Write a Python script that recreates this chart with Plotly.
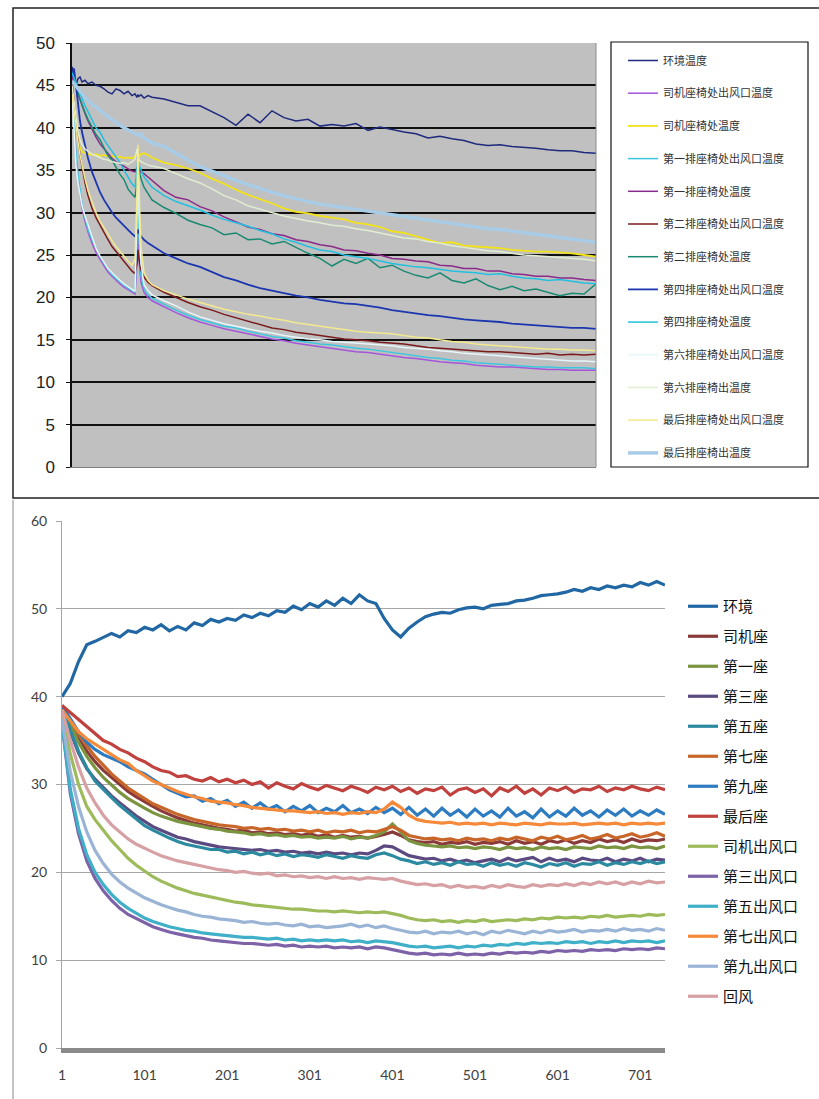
import plotly.graph_objects as go

W, H = 819, 1099

# ---------------- top chart data ----------------
TOP_X = [0, 2, 4, 6, 8, 10, 13, 16, 20, 24, 28, 32, 36, 40, 44, 48, 52, 56, 60, 63, 65, 66, 67, 69, 72, 76, 80,
         92, 104, 116, 128, 140, 152, 164, 176, 188, 200, 212, 224, 236, 248, 260, 272, 284, 296, 308, 320,
         332, 344, 356, 368, 380, 392, 404, 416, 428, 440, 452, 464, 476, 488, 500, 512, 524]

top_env = [47.2, 46.0, 45.0, 45.8, 46.0, 45.4, 45.6, 45.2, 45.4, 45.0,
           44.9, 44.6, 44.2, 44.0, 44.6, 44.4, 44.0, 44.3, 43.8, 44.0,
           43.6, 43.9, 43.7, 43.9, 43.5, 43.8, 43.6, 43.4, 43.0, 42.6,
           42.6, 41.9, 41.2, 40.3, 41.6, 40.6, 42.0, 41.2, 40.8, 41.0,
           40.2, 40.4, 40.2, 40.5, 39.7, 40.1, 39.8, 39.5, 39.3, 38.8,
           39.0, 38.7, 38.5, 38.1, 37.9, 38.0, 37.8, 37.7, 37.6, 37.4,
           37.3, 37.3, 37.1, 37.0]
top_drv_out = [44.5, 40.0, 36.5, 34.0, 32.0, 30.5, 29.0, 27.7, 26.4, 25.3,
               24.5, 23.7, 23.0, 22.5, 22.0, 21.6, 21.2, 20.9, 20.6, 20.4,
               24.0, 28.0, 24.5, 21.8, 20.6, 20.0, 19.6, 18.9, 18.2, 17.6,
               17.1, 16.7, 16.3, 16.0, 15.7, 15.4, 15.1, 14.9, 14.6, 14.4,
               14.2, 14.0, 13.8, 13.6, 13.5, 13.3, 13.1, 12.9, 12.8, 12.6,
               12.4, 12.3, 12.2, 12.0, 11.9, 11.8, 11.8, 11.7, 11.6, 11.5,
               11.5, 11.4, 11.4, 11.4]
top_drv_seat = [44.0, 42.0, 40.0, 38.5, 37.6, 37.2, 37.0, 36.9, 36.8, 36.9,
                36.7, 36.8, 36.6, 36.7, 36.5, 36.6, 36.4, 36.5, 36.4, 36.6,
                37.0, 36.8, 36.6, 36.9, 37.0, 36.8, 36.5, 35.9, 35.6, 35.2,
                34.7, 34.0, 33.4, 32.7, 32.1, 31.6, 31.1, 30.5, 30.1, 29.9,
                29.6, 29.4, 29.2, 28.8, 28.6, 28.3, 27.8, 27.6, 27.2, 26.8,
                26.4, 26.5, 26.1, 26.0, 25.9, 25.8, 25.6, 25.5, 25.4, 25.4,
                25.3, 25.2, 25.0, 24.8]
top_r1_out = [45.0, 40.5, 37.0, 34.5, 32.5, 31.0, 29.4, 28.0, 26.8, 25.7,
              24.8, 24.0, 23.3, 22.7, 22.2, 21.8, 21.4, 21.1, 20.8, 20.6,
              27.0, 33.0, 27.0, 22.5, 21.0, 20.3, 19.9, 19.2, 18.5, 17.9,
              17.4, 17.0, 16.6, 16.4, 16.0, 15.7, 15.4, 15.2, 14.9, 14.7,
              14.5, 14.4, 14.2, 14.0, 13.9, 13.7, 13.5, 13.3, 13.1, 12.9,
              12.8, 12.6, 12.5, 12.3, 12.2, 12.1, 12.0, 11.9, 11.8, 11.8,
              11.7, 11.7, 11.7, 11.6]
top_r1_seat = [46.0, 45.5, 44.8, 44.0, 43.3, 42.6, 41.7, 40.8, 39.8, 38.9,
               38.1, 37.5, 36.9, 36.4, 36.0, 35.7, 35.4, 35.2, 34.9, 34.8,
               35.3, 35.1, 34.9, 34.8, 34.6, 34.2, 33.8, 32.6, 31.8, 31.5,
               30.7, 30.2, 29.5, 28.9, 28.3, 28.0, 27.5, 27.3, 26.8, 26.6,
               26.2, 26.0, 25.6, 25.5, 25.2, 25.0, 24.6, 24.5, 24.3, 24.2,
               23.8, 23.7, 23.4, 23.4, 23.1, 23.1, 22.8, 22.7, 22.5, 22.5,
               22.3, 22.3, 22.1, 22.0]
top_r2_out = [45.5, 43.0, 40.5, 38.5, 36.8, 35.3, 33.5, 32.0, 30.5, 29.4,
              28.5, 27.6, 26.8, 26.0, 25.4, 24.8, 24.2, 23.6, 23.1, 22.8,
              24.0, 25.6, 24.5, 23.2, 22.4, 21.8, 21.4, 20.6, 20.0, 19.4,
              18.9, 18.5, 18.0, 17.6, 17.2, 16.8, 16.4, 16.2, 15.9, 15.7,
              15.5, 15.3, 15.1, 15.0, 14.9, 14.7, 14.6, 14.5, 14.3, 14.1,
              14.0, 13.9, 13.8, 13.7, 13.6, 13.6, 13.5, 13.4, 13.3, 13.4,
              13.2, 13.3, 13.2, 13.3]
top_r2_seat = [46.5, 45.8, 45.0, 44.2, 43.4, 42.7, 41.8, 41.0, 40.0, 39.2,
               38.6, 37.6, 36.7, 36.2, 35.4, 34.5, 33.9, 32.8, 32.2, 31.8,
               33.5, 35.9, 35.0, 34.0, 33.0, 32.2, 31.5, 30.6, 29.9, 29.1,
               28.6, 28.2, 27.4, 27.6, 26.8, 26.9, 26.3, 26.6, 25.9, 25.2,
               24.6, 23.7, 24.5, 24.0, 24.6, 23.5, 23.8, 23.1, 22.6, 22.3,
               22.9, 22.0, 21.7, 22.2, 21.4, 20.9, 21.3, 20.8, 21.0, 20.6,
               20.2, 20.5, 20.4, 21.6]
top_r4_out = [46.0, 47.0, 45.0, 42.5, 40.8, 39.5, 37.8, 36.4, 34.8, 33.5,
              32.4, 31.5, 30.7, 30.0, 29.4, 28.9, 28.4, 28.0, 27.5, 27.2,
              27.6, 28.0, 27.6, 27.2, 26.8, 26.4, 26.1, 25.2, 24.6, 24.0,
              23.6, 23.0, 22.4, 22.0, 21.5, 21.1, 20.8, 20.5, 20.2, 20.0,
              19.7, 19.5, 19.3, 19.2, 19.0, 18.8, 18.5, 18.3, 18.1, 17.9,
              17.8, 17.6, 17.4, 17.3, 17.2, 17.1, 16.9, 16.8, 16.7, 16.6,
              16.5, 16.4, 16.4, 16.3]
top_r4_seat = [46.5, 46.0, 45.3, 44.6, 44.0, 43.4, 42.6, 41.9, 40.9, 40.0,
               39.5, 38.6, 37.9, 37.2, 36.6, 35.9, 35.0, 34.2, 33.4, 33.0,
               34.8, 36.3, 35.6, 35.0, 34.2, 33.6, 33.0, 32.0, 31.3, 30.8,
               30.3, 29.7, 29.2, 28.8, 28.4, 27.9, 27.5, 26.9, 26.5, 26.0,
               25.6, 25.4, 25.0, 24.8, 24.6, 24.3, 24.0, 23.8, 23.6, 23.5,
               23.3, 23.1, 23.0, 22.9, 22.7, 22.8, 22.5, 22.3, 22.2, 22.0,
               22.1, 21.9, 21.7, 21.6]
top_r6_out = [44.0, 39.0, 35.5, 33.5, 32.0, 30.8, 29.6, 28.6, 27.2, 25.8,
              24.9, 24.1, 23.4, 22.9, 22.4, 22.0, 21.6, 21.3, 20.9, 20.7,
              30.0, 37.0, 30.0, 24.0, 21.5, 20.8, 20.3, 19.6, 19.0, 18.3,
              17.7, 17.3, 16.9, 16.6, 16.3, 16.0, 15.8, 15.5, 15.3, 15.1,
              15.0, 14.8, 14.7, 14.6, 14.5, 14.4, 14.3, 14.1, 14.0, 13.9,
              13.7, 13.6, 13.4, 13.3, 13.2, 13.1, 13.0, 12.9, 12.8, 12.7,
              12.6, 12.5, 12.5, 12.4]
top_r6_seat = [45.0, 43.0, 41.0, 39.6, 38.6, 38.0, 37.5, 37.2, 36.9, 36.7,
               36.5, 36.3, 36.2, 36.0, 35.9, 35.8, 35.9, 35.7, 36.0, 36.3,
               37.5, 36.8, 36.2, 36.0, 35.8, 35.6, 35.5, 35.2, 34.6, 34.0,
               33.5, 32.8, 32.0, 31.5, 30.8, 30.4, 30.0, 29.6, 29.3, 29.0,
               28.8, 28.5, 28.4, 28.1, 27.9, 27.6, 27.3, 27.0, 26.9, 26.6,
               26.4, 26.1, 25.9, 25.7, 25.5, 25.4, 25.2, 25.0, 24.9, 24.8,
               24.7, 24.6, 24.5, 24.3]
top_last_out = [44.0, 42.0, 40.0, 38.3, 36.8, 35.6, 34.0, 32.6, 31.2, 30.0,
                29.0, 28.2, 27.4, 26.7, 26.0, 25.4, 24.9, 24.3, 23.8, 24.5,
                32.0, 38.0, 33.0, 26.0, 23.0, 22.0, 21.5, 20.8, 20.3, 19.8,
                19.4, 19.0, 18.6, 18.3, 18.0, 17.8, 17.5, 17.3, 17.0, 16.8,
                16.6, 16.4, 16.2, 16.0, 15.9, 15.8, 15.7, 15.5, 15.3, 15.2,
                15.0, 14.8, 14.7, 14.5, 14.4, 14.3, 14.2, 14.1, 14.0, 13.9,
                13.9, 13.8, 13.8, 13.7]
top_last_seat = [45.5, 45.2, 44.8, 44.5, 44.2, 44.0, 43.6, 43.2, 42.8, 42.4,
                 42.1, 41.7, 41.3, 41.0, 40.6, 40.3, 40.0, 39.7, 39.5, 39.3,
                 39.2, 39.2, 39.1, 39.3, 38.8, 38.5, 38.2, 37.8, 37.0, 36.2,
                 35.4, 34.9, 34.3, 33.8, 33.3, 32.8, 32.4, 32.0, 31.6, 31.3,
                 31.0, 30.8, 30.5, 30.3, 30.2, 29.9, 29.7, 29.5, 29.3, 29.1,
                 28.9, 28.7, 28.5, 28.3, 28.1, 28.0, 27.8, 27.6, 27.4, 27.2,
                 27.0, 26.9, 26.7, 26.5]

TOP_NAMES = ["环境温度", "司机座椅处出风口温度", "司机座椅处温度", "第一排座椅处出风口温度",
             "第一排座椅处温度", "第二排座椅处出风口温度", "第二排座椅处温度", "第四排座椅处出风口温度",
             "第四排座椅处温度", "第六排座椅处出风口温度", "第六排座椅出温度", "最后排座椅处出风口温度",
             "最后排座椅出温度"]
TOP_SERIES = [top_env, top_drv_out, top_drv_seat, top_r1_out, top_r1_seat, top_r2_out, top_r2_seat,
              top_r4_out, top_r4_seat, top_r6_out, top_r6_seat, top_last_out, top_last_seat]
TOP_COLORS = ["#1f2a7e", "#a655d8", "#f2e21a", "#3ec6e0", "#8a2a8a", "#7a1a1a", "#198a72",
              "#1c36b0", "#22c0e0", "#e6f6fa", "#e2eed2", "#f3e98e", "#a8cbe6"]
TOP_WIDTHS = [1.5, 1.5, 1.8, 1.5, 1.5, 1.5, 1.5, 1.8, 1.5, 1.5, 1.5, 1.5, 3.5]

# ---------------- bottom chart data ----------------
BOT_X = list(range(1, 732, 10))
BOT_TICKS = [1, 101, 201, 301, 401, 501, 601, 701]

b_env = [40.0, 41.5, 44.0, 45.9, 46.3, 46.8, 47.2, 46.8, 47.5, 47.3,
         47.9, 47.6, 48.2, 47.5, 48.0, 47.6, 48.4, 48.1, 48.8, 48.5,
         48.9, 48.7, 49.3, 49.0, 49.5, 49.2, 49.8, 49.6, 50.3, 49.9,
         50.6, 50.2, 50.9, 50.4, 51.2, 50.6, 51.6, 50.9, 50.6, 48.9,
         47.6, 46.8, 47.8, 48.5, 49.1, 49.4, 49.6, 49.5, 49.9, 50.1,
         50.2, 50.0, 50.4, 50.5, 50.6, 50.9, 51.0, 51.2, 51.5, 51.6,
         51.7, 51.9, 52.2, 52.0, 52.4, 52.2, 52.6, 52.4, 52.7, 52.5,
         53.0, 52.7, 53.1, 52.7]
b_drv_seat = [39.0, 37.0, 35.2, 33.8, 32.6, 31.6, 30.8, 30.0, 29.2, 28.6,
              28.0, 27.5, 27.0, 26.6, 26.2, 25.9, 25.6, 25.4, 25.2, 25.0,
              24.9, 24.7, 24.8, 24.5, 24.6, 24.4, 24.5, 24.3, 24.4, 24.2,
              24.4, 24.1, 24.3, 24.0, 24.2, 24.0, 24.1, 23.9, 24.1, 24.3,
              24.6, 24.2, 23.7, 23.5, 23.4, 23.5, 23.2, 23.4, 23.3, 23.5,
              23.2, 23.4, 23.3, 23.5, 23.2, 23.6, 23.3, 23.5, 23.2, 23.6,
              23.4, 23.7, 23.3, 23.6, 23.4, 23.8, 23.5, 23.7, 23.4, 23.8,
              23.5, 23.7, 23.6, 23.8]
b_seat1 = [39.0, 36.8, 34.8, 33.2, 31.9, 30.8, 29.9, 29.1, 28.4, 27.8,
           27.3, 26.8, 26.4, 26.1, 25.8, 25.6, 25.4, 25.2, 25.0, 24.9,
           24.7, 24.6, 24.5, 24.3, 24.4, 24.2, 24.3, 24.1, 24.2, 24.0,
           24.1, 23.9, 24.0, 23.9, 24.1, 23.8, 24.0, 23.9, 24.2, 24.6,
           25.5, 24.6, 23.6, 23.3, 23.1, 23.0, 22.9, 23.0, 22.8, 22.9,
           22.7, 22.9, 22.8, 22.6, 22.9, 22.7, 22.8, 22.6, 22.9, 22.7,
           22.8, 22.6, 22.9, 22.8, 22.7, 23.0, 22.8, 22.9, 22.7, 23.0,
           22.8, 22.9, 22.7, 23.0]
b_seat3 = [39.0, 36.0, 33.6, 31.8, 30.6, 29.6, 28.7, 27.9, 27.1, 26.4,
           25.8, 25.2, 24.8, 24.4, 24.0, 23.8, 23.5, 23.3, 23.1, 22.9,
           22.8, 22.7, 22.6, 22.5, 22.6, 22.4, 22.5, 22.3, 22.4, 22.2,
           22.3, 22.1, 22.3, 22.1, 22.2, 22.0, 22.2, 22.1, 22.5, 23.0,
           22.9, 22.4, 21.9, 21.7, 21.5, 21.6, 21.3, 21.5, 21.2, 21.4,
           21.1, 21.3, 21.5, 21.2, 21.6, 21.3, 21.5, 21.7, 21.2, 21.6,
           21.3, 21.5, 21.2, 21.6, 21.4, 21.3, 21.6, 21.2, 21.5, 21.3,
           21.6, 21.2, 21.5, 21.4]
b_seat5 = [39.0, 36.2, 33.8, 31.9, 30.4, 29.4, 28.5, 27.6, 26.8, 26.0,
           25.3, 24.8, 24.3, 23.9, 23.5, 23.2, 23.0, 22.8, 22.6, 22.6,
           22.3, 22.4, 22.1, 22.3, 22.0, 22.2, 21.9, 22.1, 21.8, 22.0,
           21.9, 21.7, 22.0, 21.8, 21.6, 21.9, 21.7, 21.6, 22.0, 22.2,
           21.9, 21.5, 21.3, 21.0, 21.2, 20.9, 21.1, 20.8, 21.2, 20.9,
           21.0, 20.7, 21.1, 20.8, 21.0, 20.7, 21.1, 20.9, 20.6, 21.0,
           20.8, 21.1, 20.7, 21.0, 20.9, 21.2, 20.8, 21.1, 20.9, 21.2,
           21.0, 21.3, 21.0, 21.2]
b_seat7 = [39.0, 37.4, 35.8, 34.4, 33.2, 32.2, 31.2, 30.4, 29.6, 29.0,
           28.4, 27.8, 27.4, 27.0, 26.6, 26.3, 26.0, 25.8, 25.6, 25.4,
           25.3, 25.2, 25.0, 25.1, 24.9, 25.0, 24.8, 24.9, 24.7, 24.8,
           24.6, 24.8, 24.5, 24.7, 24.6, 24.8, 24.5, 24.7, 24.6, 24.9,
           25.2, 24.8, 24.2, 24.0, 23.8, 23.9, 23.7, 23.8, 23.6, 23.9,
           23.7, 23.8, 23.6, 23.9, 23.7, 24.0, 23.8, 23.6, 24.0, 23.8,
           24.1, 23.7, 23.9, 24.2, 23.8, 24.0, 24.3, 23.9, 24.1, 24.4,
           24.0, 24.2, 24.5, 24.1]
b_seat9 = [39.0, 37.5, 36.0, 34.8, 34.0, 33.4, 33.0, 32.6, 32.0, 31.6,
           31.2, 30.6, 30.0, 29.4, 29.0, 28.6, 28.7, 28.1, 28.4, 27.8,
           28.2, 27.5, 28.0, 27.3, 27.9, 27.2, 27.6, 26.9, 27.5, 27.0,
           27.6, 26.8, 27.3, 26.9, 27.6, 26.8, 27.2, 26.7, 27.4, 26.8,
           27.3, 26.6, 27.4, 26.5, 27.2, 26.4, 27.3, 26.5, 27.1, 26.3,
           27.2, 26.4, 27.0, 26.3, 27.3, 26.4, 26.9, 26.2, 27.2, 26.3,
           27.0, 26.4, 27.3, 26.5, 27.0, 26.3, 27.1, 26.5, 27.2, 26.4,
           27.0, 26.5, 27.1, 26.6]
b_last_seat = [39.0, 38.2, 37.4, 36.6, 35.9, 35.0, 34.6, 34.0, 33.6, 33.0,
               32.6, 32.0, 31.6, 31.4, 30.9, 31.0, 30.6, 30.4, 30.8, 30.3,
               30.6, 30.2, 30.5, 30.0, 30.3, 29.6, 30.2, 29.8, 29.5, 30.1,
               29.7, 29.4, 29.9, 29.6, 29.3, 29.8, 29.5, 29.1, 29.7, 29.4,
               29.8, 29.2, 29.6, 29.0, 29.5, 29.3, 29.7, 28.8, 29.4, 29.6,
               29.1, 29.5, 28.7, 29.6, 29.2, 29.8, 29.0, 29.5, 28.8, 29.6,
               29.3, 29.7, 29.1, 29.5, 29.4, 29.8, 29.2, 29.6, 29.4, 29.8,
               29.5, 29.3, 29.7, 29.4]
b_drv_out = [38.0, 33.5, 30.0, 27.5, 26.0, 24.8, 23.6, 22.6, 21.6, 20.8,
             20.1, 19.5, 19.0, 18.6, 18.2, 17.9, 17.6, 17.4, 17.2, 17.0,
             16.8, 16.6, 16.5, 16.3, 16.2, 16.1, 16.0, 15.9, 15.8, 15.8,
             15.7, 15.6, 15.6, 15.5, 15.6, 15.5, 15.4, 15.5, 15.4, 15.5,
             15.3, 15.1, 14.8, 14.6, 14.5, 14.6, 14.4, 14.5, 14.3, 14.5,
             14.4, 14.6, 14.4, 14.5, 14.6, 14.5, 14.7, 14.6, 14.8, 14.7,
             14.9, 14.8, 14.9, 14.8, 15.0, 14.9, 15.1, 14.9, 15.0, 15.1,
             15.0, 15.2, 15.1, 15.2]
b_out3 = [37.0, 29.0, 24.4, 21.3, 19.3, 17.9, 16.8, 15.9, 15.2, 14.7,
          14.2, 13.8, 13.5, 13.2, 13.0, 12.8, 12.6, 12.5, 12.3, 12.2,
          12.1, 12.0, 11.9, 11.9, 11.8, 11.7, 11.8, 11.6, 11.7, 11.5,
          11.6, 11.5, 11.6, 11.4, 11.5, 11.4, 11.5, 11.3, 11.5, 11.4,
          11.2, 11.0, 10.8, 10.7, 10.8, 10.6, 10.7, 10.6, 10.8, 10.6,
          10.7, 10.6, 10.8, 10.7, 10.9, 10.8, 10.9, 10.8, 11.0, 10.9,
          11.1, 11.0, 11.1, 11.0, 11.2, 11.1, 11.2, 11.1, 11.3, 11.2,
          11.3, 11.2, 11.4, 11.3]
b_out5 = [37.0, 29.5, 25.0, 22.0, 20.0, 18.6, 17.5, 16.6, 15.9, 15.3,
          14.8, 14.4, 14.1, 13.8, 13.6, 13.4, 13.3, 13.1, 13.0, 12.9,
          12.8, 12.7, 12.6, 12.6, 12.5, 12.4, 12.5, 12.3, 12.4, 12.2,
          12.3, 12.2, 12.3, 12.2, 12.3, 12.1, 12.2, 12.0, 12.2, 12.1,
          12.0, 11.8, 11.6, 11.5, 11.6, 11.4, 11.5, 11.6, 11.4, 11.6,
          11.5, 11.7, 11.6, 11.8, 11.7, 11.9, 11.8, 12.0, 11.9, 12.0,
          11.9, 12.1, 12.0, 12.1, 11.9, 12.1, 12.0, 12.2, 12.0, 12.2,
          12.1, 12.2, 12.0, 12.2]
b_out7 = [38.5, 37.2, 36.0, 35.2, 34.6, 34.0, 33.4, 32.8, 32.4, 31.6,
          31.0, 30.4, 30.0, 29.6, 29.2, 28.9, 28.6, 28.4, 28.1, 28.0,
          27.9, 27.7, 27.6, 27.4, 27.3, 27.2, 27.1, 27.0, 27.0, 26.9,
          26.8, 26.9, 26.7, 26.8, 26.6, 26.8, 26.7, 26.9, 26.8, 27.2,
          28.0, 27.4, 26.5, 26.0, 25.8, 25.7, 25.6, 25.7, 25.5, 25.6,
          25.5, 25.6, 25.4, 25.6, 25.5, 25.4, 25.6, 25.5, 25.4, 25.6,
          25.5, 25.5, 25.6, 25.4, 25.5, 25.6, 25.5, 25.6, 25.4, 25.6,
          25.5, 25.6, 25.5, 25.6]
b_out9 = [37.5, 31.5, 27.5, 24.6, 22.5, 21.0, 19.8, 18.9, 18.2, 17.6,
          17.1, 16.7, 16.3, 16.0, 15.7, 15.5, 15.2, 15.0, 14.9, 14.7,
          14.6, 14.5, 14.3, 14.4, 14.2, 14.1, 14.2, 14.0, 13.9, 14.1,
          13.8, 13.9, 13.7, 13.8, 13.9, 14.1, 13.8, 14.0, 13.7, 13.9,
          13.6, 13.4, 13.2, 13.1, 13.3, 13.0, 13.2, 13.1, 13.3, 13.0,
          13.2, 12.9, 13.3, 13.1, 13.4, 13.2, 13.0, 13.3, 13.1, 13.4,
          13.2, 13.3, 13.5, 13.2, 13.4, 13.3, 13.5, 13.3, 13.6, 13.4,
          13.5, 13.3, 13.6, 13.4]
b_return = [38.5, 35.0, 32.0, 29.6, 27.9, 26.5, 25.4, 24.6, 23.8, 23.2,
            22.7, 22.3, 21.9, 21.6, 21.3, 21.1, 20.9, 20.7, 20.5, 20.3,
            20.2, 20.0, 20.1, 19.9, 19.8, 19.9, 19.6, 19.7, 19.5, 19.6,
            19.4, 19.5, 19.3, 19.5, 19.3, 19.4, 19.2, 19.4, 19.3, 19.2,
            19.3, 19.0, 18.8, 18.6, 18.7, 18.5, 18.6, 18.3, 18.5, 18.3,
            18.4, 18.2, 18.5, 18.3, 18.6, 18.4, 18.3, 18.6, 18.4, 18.6,
            18.5, 18.7, 18.5, 18.8, 18.6, 18.9, 18.7, 18.9, 18.6, 18.9,
            18.7, 19.0, 18.8, 18.9]

BOT_NAMES = ["环境", "司机座", "第一座", "第三座", "第五座", "第七座", "第九座", "最后座",
             "司机出风口", "第三出风口", "第五出风口", "第七出风口", "第九出风口", "回风"]
BOT_SERIES = [b_env, b_drv_seat, b_seat1, b_seat3, b_seat5, b_seat7, b_seat9, b_last_seat,
              b_drv_out, b_out3, b_out5, b_out7, b_out9, b_return]
BOT_COLORS = ["#2067a3", "#8b3a3a", "#7a9440", "#5b4a80", "#2c8aa0", "#c8662a", "#2d7bc0", "#c0413d",
              "#9dbb5a", "#7d62a8", "#40b0c8", "#f58a3a", "#9ab4d6", "#d6a0a4"]

fig = go.Figure()
for i, (name, vals, col, w) in enumerate(zip(TOP_NAMES, TOP_SERIES, TOP_COLORS, TOP_WIDTHS)):
    fig.add_trace(go.Scatter(x=TOP_X, y=vals, name=name, mode="lines",
                             line=dict(color=col, width=w), xaxis="x", yaxis="y",
                             legend="legend", legendgroup="t%d" % i))
for i, (name, vals, col) in enumerate(zip(BOT_NAMES, BOT_SERIES, BOT_COLORS)):
    fig.add_trace(go.Scatter(x=BOT_X, y=vals, name=name, mode="lines",
                             line=dict(color=col, width=3.2), xaxis="x2", yaxis="y2",
                             legend="legend2", legendgroup="b%d" % i))

tick_font_top = dict(family="Liberation Sans, Arial, sans-serif", size=17, color="#222222")
tick_font_bot = dict(family="Lato, Liberation Sans, sans-serif", size=14, color="#404040")

fig.update_layout(
    template="none",
    width=W, height=H,
    margin=dict(l=0, r=0, t=0, b=0),
    paper_bgcolor="white", plot_bgcolor="rgba(0,0,0,0)",
    showlegend=True,
    xaxis=dict(domain=[72 / W, 596 / W], range=[0, 524], anchor="y",
               showticklabels=False, showgrid=False, zeroline=False,
               showline=True, linecolor="#7f7f7f", linewidth=1, ticks=""),
    yaxis=dict(domain=[1 - 467 / H, 1 - 43 / H], range=[0, 50], anchor="x",
               tickvals=[0, 5, 10, 15, 20, 25, 30, 35, 40, 45, 50],
               showgrid=True, gridcolor="#111111", gridwidth=1.5, zeroline=False,
               showline=True, linecolor="#111111", linewidth=1.5,
               ticks="outside", ticklen=4, tickcolor="#111111",
               tickfont=tick_font_top, ticklabelstandoff=8),
    xaxis2=dict(domain=[62 / W, 665 / W], range=[1, 731], anchor="y2",
                tickvals=BOT_TICKS, showgrid=False, zeroline=False,
                showline=True, linecolor="#8a8a8a", linewidth=5, ticks="",
                tickfont=tick_font_bot, ticklabelstandoff=10),
    yaxis2=dict(domain=[1 - 1048 / H, 1 - 521 / H], range=[0, 60], anchor="x2",
                tickvals=[0, 10, 20, 30, 40, 50, 60],
                showgrid=True, gridcolor="#a6a6a6", gridwidth=1, zeroline=False,
                showline=True, linecolor="#a6a6a6", linewidth=1,
                ticks="outside", ticklen=5, tickcolor="#a6a6a6",
                tickfont=tick_font_bot, ticklabelstandoff=6),
    legend=dict(x=623 / W, y=1 - 46 / H, xanchor="left", yanchor="top",
                font=dict(family="Noto Sans CJK SC", size=11, color="#333333"),
                bgcolor="rgba(0,0,0,0)", borderwidth=0,
                traceorder="grouped", tracegroupgap=13.7),
    legend2=dict(x=683 / W, y=1 - 590 / H, xanchor="left", yanchor="top",
                 font=dict(family="Noto Sans CJK SC", size=15, color="#111111"),
                 bgcolor="rgba(0,0,0,0)", borderwidth=0,
                 traceorder="grouped", tracegroupgap=7.5),
    shapes=[
        # grey plot area of the top chart
        dict(type="rect", xref="x domain", yref="y domain", x0=0, x1=1, y0=0, y1=1,
             fillcolor="#c0c0c0", line=dict(width=0), layer="below"),
        dict(type="line", xref="x domain", yref="y domain", x0=1, x1=1, y0=0, y1=1,
             line=dict(color="#8c8c8c", width=1)),
        # top chart legend frame
        dict(type="rect", xref="paper", yref="paper", x0=611 / W, x1=808 / W,
             y0=1 - 467 / H, y1=1 - 42 / H, line=dict(color="#111111", width=1.2)),
        # top chart outer frame
        dict(type="rect", xref="paper", yref="paper", x0=13 / W, x1=1.05,
             y0=1 - 498 / H, y1=1 - 8 / H, line=dict(color="#222222", width=1.5)),
        # bottom chart left border
        dict(type="line", xref="paper", yref="paper", x0=13 / W, x1=13 / W,
             y0=0, y1=1 - 500 / H, line=dict(color="#9a9a9a", width=1.2)),
    ],
)

fig.write_html("out.html")
